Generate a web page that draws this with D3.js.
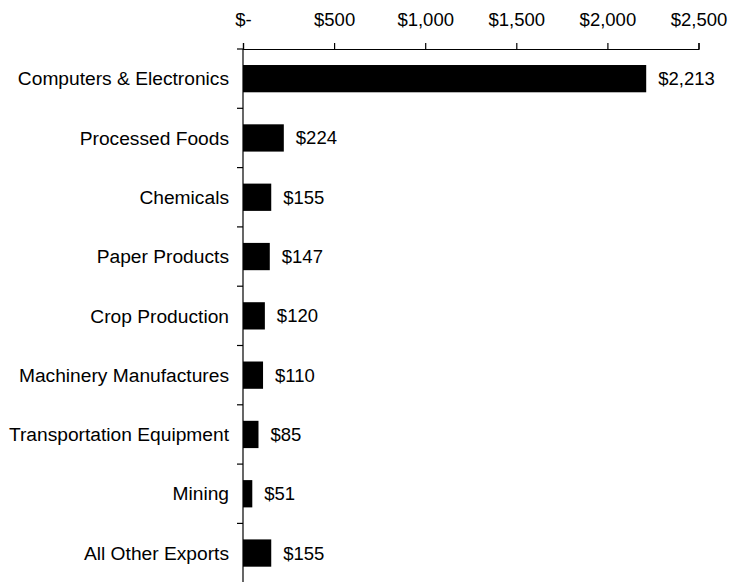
<!DOCTYPE html>
<html><head><meta charset="utf-8">
<script src="https://cdn.jsdelivr.net/npm/d3@7"></script>
<style>body{margin:0;background:#fff;} svg{display:block;} text{font-family:"Liberation Sans",Arial,sans-serif;}</style>
</head><body><svg id="c" width="732" height="582"></svg>
<script>
const categories = ["Computers & Electronics","Processed Foods","Chemicals","Paper Products","Crop Production","Machinery Manufactures","Transportation Equipment","Mining","All Other Exports"];
const values = [2213,224,155,147,120,110,85,51,155];
const tickValues = [0,500,1000,1500,2000,2500];
const tickLabels = ["$-","$500","$1,000","$1,500","$2,000","$2,500"];

const svg = d3.select("#c");
const x0 = 243, x1 = 698.5, yTop = 49, band = 59.3;
const x = d3.scaleLinear().domain([0,2500]).range([x0,x1]);
const y = d3.scaleBand().domain(categories).range([yTop, yTop+band*categories.length]).paddingInner(0.54).paddingOuter(0.27);

// top axis
const gx = svg.append("g").attr("transform",`translate(0,${yTop})`)
  .call(d3.axisTop(x).tickValues(tickValues).tickFormat((d,i)=>tickLabels[i]).tickSizeOuter(0).tickSize(6).tickPadding(17));
gx.select(".domain").attr("stroke","#000").attr("stroke-width",1.2);
gx.selectAll(".tick line").attr("stroke","#000").attr("stroke-width",1.2);
gx.selectAll(".tick text").attr("font-size",18.5).attr("fill","#000").style("font-family","'Liberation Sans',Arial,sans-serif");

// left axis line
svg.append("line").attr("x1",x0).attr("x2",x0).attr("y1",yTop).attr("y2",582).attr("stroke","#000").attr("stroke-width",1.2);
// band boundary ticks
const boundaries = d3.range(categories.length+1).map(i=>yTop+band*i);
svg.selectAll(".yt").data(boundaries).join("line").attr("class","yt")
  .attr("x1",x0-6).attr("x2",x0).attr("y1",d=>d).attr("y2",d=>d).attr("stroke","#000").attr("stroke-width",1.2);

// category labels
svg.selectAll(".cl").data(categories).join("text").attr("class","cl")
  .attr("x",x0-14).attr("y",d=>y(d)+y.bandwidth()/2).attr("dy","0.35em")
  .attr("text-anchor","end").attr("font-size",19.2).text(d=>d);

// bars
svg.selectAll(".bar").data(values).join("rect").attr("class","bar")
  .attr("x",x(0)).attr("y",(d,i)=>y(categories[i])).attr("width",d=>x(d)-x(0)).attr("height",y.bandwidth()).attr("fill","#000");

// value labels
const fmt = d3.format("$,");
svg.selectAll(".vl").data(values).join("text").attr("class","vl")
  .attr("x",d=>x(d)+12).attr("y",(d,i)=>y(categories[i])+y.bandwidth()/2).attr("dy","0.35em")
  .attr("font-size",18.5).text(d=>fmt(d));
</script></body></html>
